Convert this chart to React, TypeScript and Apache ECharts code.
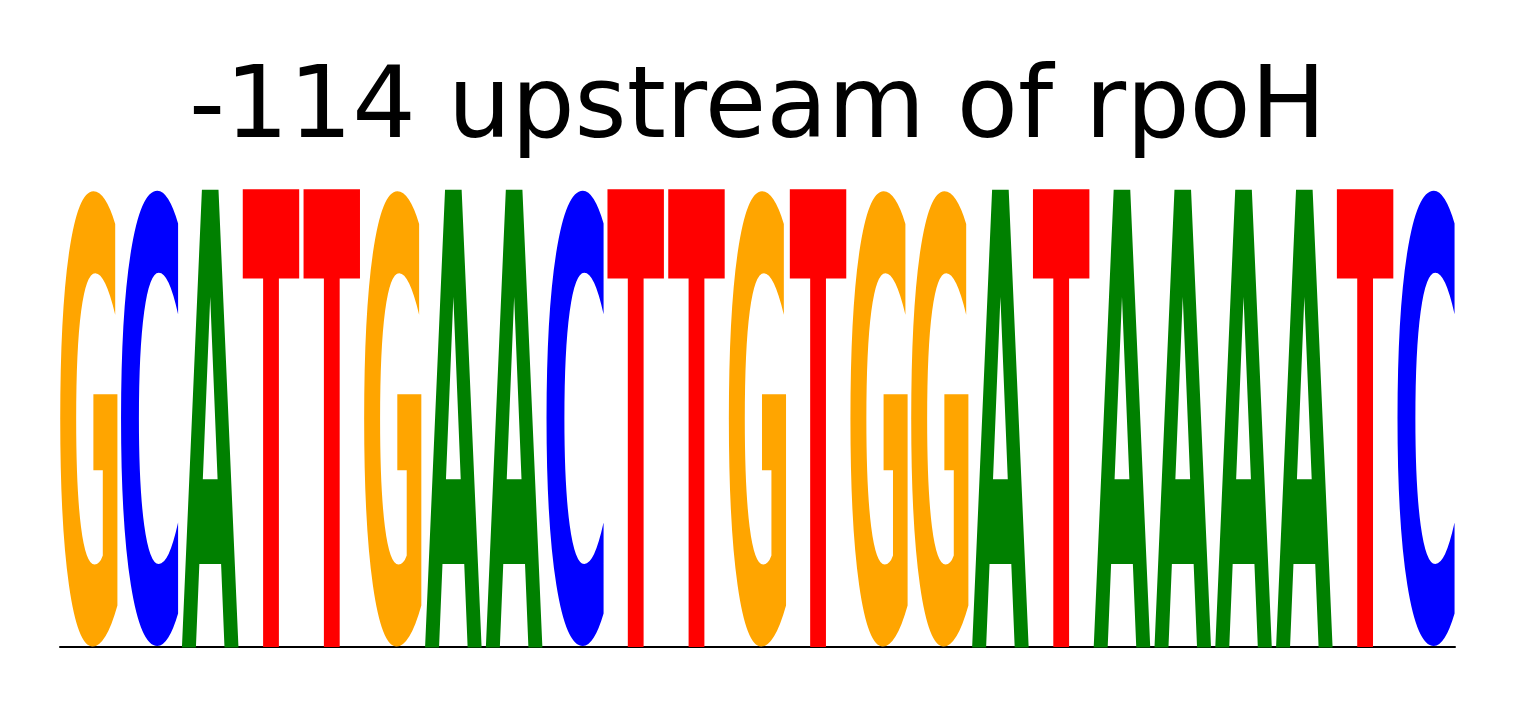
import React, { useEffect, useRef } from 'react';
import * as echarts from 'echarts';

// one letter per column, read left to right
const letters = ['G', 'C', 'A', 'T', 'T', 'G', 'A', 'A', 'C', 'T', 'T', 'G', 'T', 'G', 'G', 'A', 'T', 'A', 'A', 'A', 'A', 'T', 'C'];
// letter height in each column (probability)
const heights = [1, 1, 1, 1, 1, 1, 1, 1, 1, 1, 1, 1, 1, 1, 1, 1, 1, 1, 1, 1, 1, 1, 1];

const letterColors: Record<string, string> = {
  A: '#008000',
  C: '#0000ff',
  G: '#ffa500',
  T: '#ff0000',
};

const FONT_SIZE = 1000;
const GLYPH_FONT = `bold ${FONT_SIZE}px "DejaVu Sans"`;
const GLYPH_WIDTH = 0.95;

type Ink = { left: number; right: number; ascent: number; descent: number };

// ink box of each glyph, relative to the svg "central" baseline that zrender uses
function measureGlyphs(): Record<string, Ink> {
  const canvas = document.createElement('canvas');
  const ctx = canvas.getContext('2d')!;
  ctx.font = GLYPH_FONT;
  ctx.textBaseline = 'alphabetic';
  ctx.textAlign = 'left';
  const out: Record<string, Ink> = {};
  Object.keys(letterColors).forEach((ch) => {
    const m = ctx.measureText(ch);
    const fa = m.fontBoundingBoxAscent ?? 0.928 * FONT_SIZE;
    const fd = m.fontBoundingBoxDescent ?? 0.236 * FONT_SIZE;
    const central = (fa - fd) / 2;
    out[ch] = {
      left: m.actualBoundingBoxLeft,
      right: m.actualBoundingBoxRight,
      ascent: m.actualBoundingBoxAscent - central,
      descent: m.actualBoundingBoxDescent + central,
    };
  });
  return out;
}

const App: React.FC = () => {
  const chartRef = useRef<HTMLDivElement>(null);

  useEffect(() => {
    if (!chartRef.current) return;
    const chart = echarts.init(chartRef.current, undefined, { renderer: 'svg' });
    const ink = measureGlyphs();

    const option: any = {
      animation: false,
      title: {
        text: '-114 upstream of rpoH',
        left: 'center',
        top: 52,
        padding: 0,
        textStyle: {
          fontFamily: 'DejaVu Sans',
          fontSize: 100,
          fontWeight: 'normal',
          color: '#000',
        },
      },
      grid: { left: 60, right: 60, top: 186, bottom: 61 },
      xAxis: {
        type: 'value',
        min: -GLYPH_WIDTH / 2,
        max: letters.length - 1 + GLYPH_WIDTH / 2,
        axisLine: { show: true, lineStyle: { color: '#000', width: 2 } },
        axisTick: { show: false },
        axisLabel: { show: false },
        splitLine: { show: false },
      },
      yAxis: {
        type: 'value',
        min: 0,
        max: 1,
        show: false,
      },
      series: [
        {
          type: 'custom',
          data: letters.map((_, i) => [i, heights[i]]),
          renderItem: (params: any, api: any) => {
            const i = api.value(0);
            const h = api.value(1);
            const ch = letters[params.dataIndex];
            const m = ink[ch];
            const [xl, yb] = api.coord([i - GLYPH_WIDTH / 2, 0]);
            const [xr, yt] = api.coord([i + GLYPH_WIDTH / 2, h]);
            const sx = (xr - xl) / (m.left + m.right);
            const sy = (yb - yt) / (m.ascent + m.descent);
            return {
              type: 'text',
              x: xl + sx * m.left,
              y: yt + sy * m.ascent,
              scaleX: sx,
              scaleY: sy,
              z2: 1,
              style: {
                text: ch,
                x: 0,
                y: 0,
                font: GLYPH_FONT,
                fill: letterColors[ch],
                textAlign: 'left',
                textVerticalAlign: 'middle',
                align: 'left',
                verticalAlign: 'middle',
              },
            };
          },
        },
      ],
    };

    chart.setOption(option);
    return () => {
      chart.dispose();
    };
  }, []);

  return (
    <div
      ref={chartRef}
      style={{ position: 'absolute', left: 0, top: 0, width: 1515, height: 708, background: '#fff' }}
    />
  );
};

export default App;
